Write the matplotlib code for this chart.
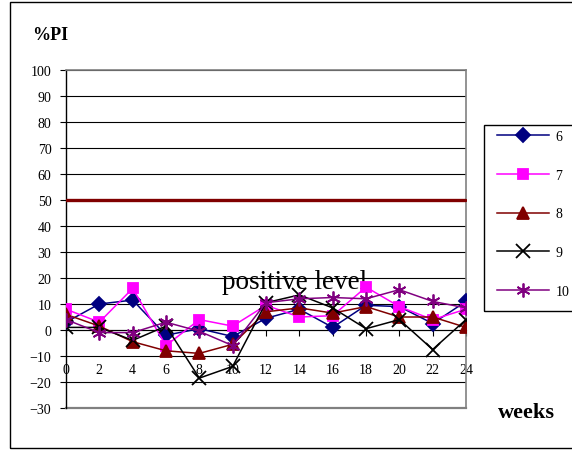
import numpy as np
import matplotlib.pyplot as plt
from matplotlib.patches import Rectangle

plt.rcParams['font.family'] = ['Liberation Serif', 'DejaVu Serif']

# data
weeks = [0, 2, 4, 6, 8, 10, 12, 14, 16, 18, 20, 22, 24]
pi_6 = [3, 10, 11.5, -2, 0.5, -2.5, 4.5, 8, 1, 9.5, 9, 2.5, 11]
pi_7 = [8, 3, 16, -6, 4, 1.5, 9.5, 5, 5.5, 16.5, 9, 4, 8]
pi_8 = [6, 1.5, -4.5, -8, -9, -5.5, 7, 8.5, 6.5, 9, 5, 5, 1]
pi_9 = [1, 1, -4, 1.5, -18.5, -14, 10.5, 13.5, 8.5, 0.5, 4, -7.5, 4]
pi_10 = [4, -1, -1, 3, -0.5, -6, 10.5, 12, 12.5, 12, 15.5, 11, 8.5]
positive_level = [50] * len(weeks)

series = [
    ("6", pi_6, "#000080", "D", 7.5),
    ("7", pi_7, "#FF00FF", "s", 7.5),
    ("8", pi_8, "#800000", "^", 8.5),
    ("9", pi_9, "#000000", "x", 9.5),
    ("10", pi_10, "#800080", (6, 2, 0), 10),
]

fig = plt.figure(figsize=(5.72, 4.52), dpi=100)
ax = fig.add_axes([66 / 572, 1 - 409 / 452, 400 / 572, 338 / 452])

# outer chart border (right side runs off the picture)
fig.patches.append(Rectangle((10 / 572, 1 - 449 / 452), 600 / 572, 446 / 452,
                             transform=fig.transFigure, fill=False,
                             edgecolor="black", linewidth=1.0))
# legend box (also runs off the right edge)
fig.patches.append(Rectangle((484 / 572, 1 - 312 / 452), 120 / 572, 186 / 452,
                             transform=fig.transFigure, fill=False,
                             edgecolor="black", linewidth=1.0))

ax.plot(weeks, positive_level, color="#800000", linewidth=2.4,
        marker="_", markersize=8, markeredgewidth=2, zorder=3)

for name, vals, col, mk, ms in series:
    ax.plot(weeks, vals, color=col, linewidth=1.1, marker=mk, markersize=ms,
            markerfacecolor=col, markeredgecolor=col, markeredgewidth=1.3,
            label=name, zorder=4)

ax.set_xlim(0, 24)
ax.set_ylim(-30, 100)
ax.set_yticks(np.arange(-30, 101, 10))
ax.set_xticks(weeks)
ax.grid(axis="y", color="black", linewidth=0.8)
ax.set_axisbelow(True)

ax.spines["bottom"].set_position(("data", 0))
ax.spines["bottom"].set_color("black")
ax.spines["bottom"].set_linewidth(0.8)
ax.spines["left"].set_color("black")
ax.spines["left"].set_linewidth(1.0)
ax.spines["right"].set_color("#808080")
ax.spines["top"].set_color("#808080")
for s in ("right", "top"):
    ax.spines[s].set_linewidth(1.2)
# bottom frame line at -30
ax.axhline(-30, color="#808080", linewidth=1.6, clip_on=False)

ax.tick_params(axis="y", direction="out", length=4.5, width=0.8, pad=6,
               labelsize=10)
ax.tick_params(axis="x", direction="out", length=4, width=0.8, pad=19.5,
               labelsize=10)

ax.text(13.7, 18.5, "positive level", fontsize=19.5, ha="center", va="center",
        zorder=2)

fig.text(32 / 572, 1 - 36 / 452, "%PI", fontsize=13, fontweight="bold",
         ha="left", va="center")
fig.text(526 / 572, 1 - 413 / 452, "weeks", fontsize=16, fontweight="bold",
         ha="center", va="center")

leg = fig.legend(loc="upper left", bbox_to_anchor=(497 / 572, 1 - 131 / 452),
                 frameon=False, fontsize=10, handlelength=3.75,
                 labelspacing=1.85, borderpad=0, handletextpad=0.45,
                 borderaxespad=0)

fig.savefig("out.png", dpi=100)
